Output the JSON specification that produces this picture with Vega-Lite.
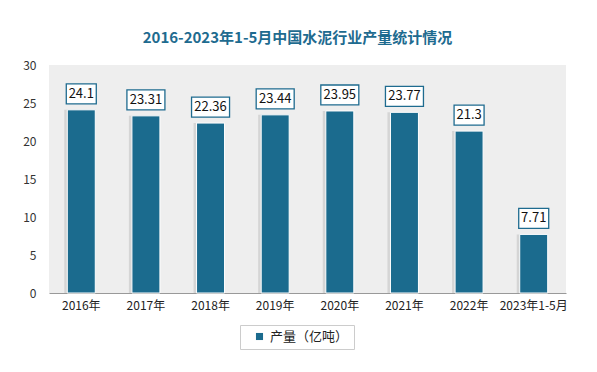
{
  "$schema": "https://vega.github.io/schema/vega-lite/v6.json",
  "autosize": "none",
  "width": 517,
  "height": 228,
  "padding": {"left": 49, "top": 65, "right": 31, "bottom": 79},
  "background": "#ffffff",
  "config": {
    "font": "Noto Sans CJK SC",
    "view": {"fill": "#eeeeee", "stroke": null}
  },
  "title": {
    "text": "2016-2023年1-5月中国水泥行业产量统计情况",
    "fontSize": 15,
    "fontWeight": "bold",
    "color": "#1e6b8f",
    "anchor": "middle",
    "frame": "group",
    "dx": -10,
    "offset": 13
  },
  "data": {
    "values": [
      {"year": "2016年", "value": 24.1},
      {"year": "2017年", "value": 23.31},
      {"year": "2018年", "value": 22.36},
      {"year": "2019年", "value": 23.44},
      {"year": "2020年", "value": 23.95},
      {"year": "2021年", "value": 23.77},
      {"year": "2022年", "value": 21.3},
      {"year": "2023年1-5月", "value": 7.71}
    ]
  },
  "encoding": {
    "x": {
      "field": "year",
      "type": "nominal",
      "sort": null,
      "scale": {"paddingInner": 0.567, "paddingOuter": 0.283},
      "axis": {
        "title": null,
        "labelAngle": 0,
        "ticks": false,
        "domainColor": "#999999",
        "domainWidth": 1,
        "labelPadding": 7,
        "labelFontSize": 12,
        "labelColor": "#222222"
      }
    },
    "y": {
      "field": "value",
      "type": "quantitative",
      "scale": {"domain": [0, 30]},
      "axis": {
        "title": null,
        "values": [0, 5, 10, 15, 20, 25, 30],
        "domain": false,
        "ticks": false,
        "grid": false,
        "labelPadding": 13,
        "labelFontSize": 12,
        "labelColor": "#333333"
      }
    }
  },
  "layer": [
    {
      "mark": {"type": "bar", "color": "#c4c4c4", "opacity": 0.6, "xOffset": -3},
      "encoding": {}
    },
    {
      "mark": {"type": "bar", "stroke": "#ffffff", "strokeWidth": 1},
      "encoding": {
        "color": {
          "datum": "产量（亿吨）",
          "scale": {"range": ["#1b6b8e"]},
          "legend": {
            "title": null,
            "orient": "none",
            "legendX": 191,
            "legendY": 260,
            "symbolType": "square",
            "symbolSize": 50,
            "symbolStrokeWidth": 0,
            "symbolOffset": 8,
            "strokeColor": "#cccccc",
            "fillColor": "#ffffff",
            "padding": 5,
            "labelFontSize": 13,
            "labelColor": "#222222",
            "labelExpr": "datum.label + '   '"
          }
        }
      }
    },
    {
      "transform": [{"filter": "length(toString(datum.value)) <= 4"}],
      "mark": {
        "type": "point",
        "shape": "M-1,-0.667H1V0.667H-1Z",
        "size": 900,
        "filled": true,
        "fill": "#ffffff",
        "stroke": "#1e6b8f",
        "strokeWidth": 1.3,
        "opacity": 1,
        "yOffset": -16
      },
      "encoding": {}
    },
    {
      "transform": [{"filter": "length(toString(datum.value)) > 4"}],
      "mark": {
        "type": "point",
        "shape": "M-1,-0.526H1V0.526H-1Z",
        "size": 1444,
        "filled": true,
        "fill": "#ffffff",
        "stroke": "#1e6b8f",
        "strokeWidth": 1.3,
        "opacity": 1,
        "yOffset": -16
      },
      "encoding": {}
    },
    {
      "mark": {
        "type": "text",
        "fontSize": 13,
        "color": "#111111",
        "baseline": "middle",
        "dy": -16
      },
      "encoding": {"text": {"field": "value", "type": "quantitative"}}
    }
  ]
}
